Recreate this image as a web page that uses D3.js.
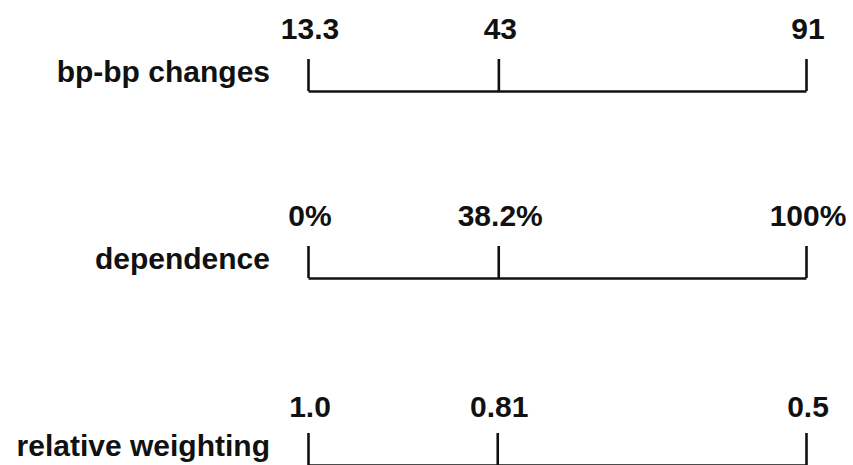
<!DOCTYPE html>
<html>
<head>
<meta charset="utf-8">
<script src="https://cdn.jsdelivr.net/npm/d3@7"></script>
<style>
  html, body { margin: 0; padding: 0; background: #fff; }
  svg { display: block; }
  text { font-family: "Liberation Sans", Arial, Helvetica, sans-serif; font-weight: bold; fill: #111; }
</style>
</head>
<body>
<svg id="chart" width="853" height="465"></svg>
<script>
// ---- data ----
const rowLabels = ["bp-bp changes", "dependence", "relative weighting"];
const bpValues = [13.3, 43, 91];
const bpTickLabels = ["13.3", "43", "91"];
const depValues = [0, 38.2, 100];
const depTickLabels = ["0%", "38.2%", "100%"];
const weightValues = [1.0, 0.81, 0.5];
const weightTickLabels = ["1.0", "0.81", "0.5"];

// ---- layout ----
const svg = d3.select("#chart");
const x0 = 308, x1 = 806;
const lineY = [91, 278, 465];
const tickH = 32;
const fontSize = 30;

const rows = [
  { label: rowLabels[0], values: bpValues, ticks: bpTickLabels },
  { label: rowLabels[1], values: depValues, ticks: depTickLabels },
  { label: rowLabels[2], values: weightValues, ticks: weightTickLabels }
];

rows.forEach((r, i) => {
  const scale = d3.scaleLinear()
    .domain([r.values[0], r.values[r.values.length - 1]])
    .range([x0, x1]);
  const g = svg.append("g").attr("transform", `translate(0,${lineY[i]})`);

  const axis = d3.axisBottom(scale)
    .tickValues(r.values)
    .tickSizeInner(-tickH)
    .tickSizeOuter(0)
    .tickFormat("");
  const ag = g.append("g").call(axis);
  ag.select(".domain").attr("stroke", "#111").attr("stroke-width", 2.6);
  ag.selectAll(".tick line").attr("stroke", "#111").attr("stroke-width", 2.6);

  // tick value labels above
  g.selectAll("text.val")
    .data(r.values)
    .join("text")
    .attr("class", "val")
    .attr("x", (d) => scale(d) + 2)
    .attr("y", -tickH - (i === 2 ? 16 : 20))
    .attr("text-anchor", "middle")
    .attr("font-size", fontSize)
    .text((d, k) => r.ticks[k]);

  // row label
  g.append("text")
    .attr("x", 270)
    .attr("y", -tickH + 23)
    .attr("text-anchor", "end")
    .attr("font-size", fontSize)
    .text(r.label);
});
</script>
</body>
</html>
